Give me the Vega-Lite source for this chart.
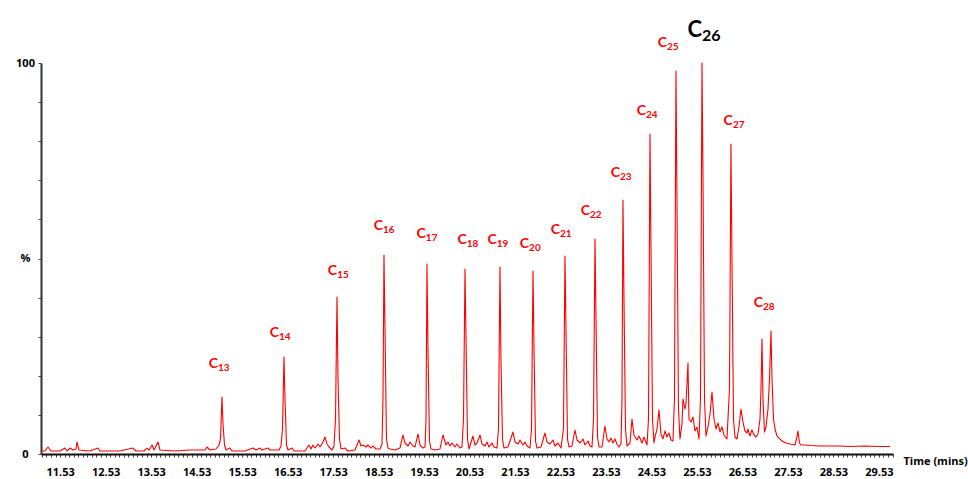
{
  "$schema": "https://vega.github.io/schema/vega-lite/v6.json",
  "autosize": {"type": "none"},
  "width": 852,
  "height": 391,
  "padding": {"left": 41, "top": 63, "right": 75, "bottom": 25},
  "background": "white",
  "config": {"view": {"stroke": null}},
  "datasets": {
    "chrom": [
{"t":11.110,"i":0.77},{"t":11.198,"i":0.77},{"t":11.264,"i":1.79},{"t":11.330,"i":0.77},{"t":11.528,"i":0.77},{"t":11.638,"i":1.53},{"t":11.682,"i":0.77},{"t":11.748,"i":1.53},{"t":11.813,"i":1.02},{"t":11.879,"i":1.28},{"t":11.901,"i":3.07},{"t":11.945,"i":1.02},{"t":12.187,"i":0.77},{"t":12.363,"i":1.53},{"t":12.407,"i":0.77},{"t":12.847,"i":0.77},{"t":13.132,"i":1.53},{"t":13.198,"i":0.77},{"t":13.374,"i":0.77},{"t":13.440,"i":1.53},{"t":13.484,"i":1.02},{"t":13.550,"i":2.30},{"t":13.594,"i":1.02},{"t":13.682,"i":3.07},{"t":13.726,"i":1.02},{"t":14.056,"i":0.77},{"t":14.385,"i":1.02},{"t":14.715,"i":1.02},{"t":14.759,"i":1.79},{"t":14.825,"i":1.02},{"t":14.957,"i":1.28},{"t":15.023,"i":2.30},{"t":15.056,"i":3.84},{"t":15.089,"i":14.58},{"t":15.111,"i":7.67},{"t":15.144,"i":2.30},{"t":15.177,"i":1.02},{"t":15.265,"i":1.53},{"t":15.309,"i":0.77},{"t":15.595,"i":0.77},{"t":15.770,"i":1.53},{"t":15.836,"i":1.02},{"t":15.924,"i":1.53},{"t":15.968,"i":1.02},{"t":16.100,"i":1.53},{"t":16.144,"i":1.02},{"t":16.342,"i":1.02},{"t":16.386,"i":2.05},{"t":16.419,"i":6.39},{"t":16.452,"i":24.81},{"t":16.474,"i":14.07},{"t":16.507,"i":2.30},{"t":16.540,"i":1.02},{"t":16.628,"i":1.53},{"t":16.672,"i":0.77},{"t":16.914,"i":0.77},{"t":17.001,"i":2.30},{"t":17.045,"i":1.28},{"t":17.089,"i":2.30},{"t":17.133,"i":1.53},{"t":17.199,"i":2.56},{"t":17.243,"i":1.79},{"t":17.309,"i":3.07},{"t":17.353,"i":4.35},{"t":17.397,"i":2.56},{"t":17.441,"i":1.79},{"t":17.507,"i":1.02},{"t":17.551,"i":2.05},{"t":17.584,"i":8.95},{"t":17.617,"i":40.15},{"t":17.639,"i":19.18},{"t":17.672,"i":3.84},{"t":17.705,"i":1.28},{"t":17.793,"i":1.53},{"t":17.859,"i":0.77},{"t":18.013,"i":1.02},{"t":18.101,"i":3.58},{"t":18.145,"i":2.05},{"t":18.189,"i":2.30},{"t":18.255,"i":1.79},{"t":18.298,"i":2.30},{"t":18.364,"i":1.53},{"t":18.408,"i":2.05},{"t":18.474,"i":1.28},{"t":18.562,"i":1.28},{"t":18.606,"i":2.56},{"t":18.628,"i":14.07},{"t":18.650,"i":50.90},{"t":18.672,"i":31.97},{"t":18.705,"i":3.84},{"t":18.738,"i":1.53},{"t":18.782,"i":1.28},{"t":18.892,"i":1.02},{"t":19.002,"i":1.53},{"t":19.068,"i":4.86},{"t":19.112,"i":2.81},{"t":19.178,"i":2.05},{"t":19.222,"i":3.07},{"t":19.288,"i":2.05},{"t":19.332,"i":1.79},{"t":19.398,"i":5.12},{"t":19.442,"i":2.30},{"t":19.508,"i":1.53},{"t":19.552,"i":1.79},{"t":19.574,"i":8.95},{"t":19.595,"i":48.59},{"t":19.617,"i":26.85},{"t":19.650,"i":3.32},{"t":19.683,"i":1.28},{"t":19.771,"i":1.02},{"t":19.881,"i":1.28},{"t":19.947,"i":4.86},{"t":20.013,"i":2.30},{"t":20.057,"i":3.07},{"t":20.101,"i":2.05},{"t":20.145,"i":2.81},{"t":20.211,"i":1.79},{"t":20.255,"i":2.56},{"t":20.321,"i":1.53},{"t":20.365,"i":1.79},{"t":20.398,"i":8.95},{"t":20.431,"i":47.31},{"t":20.453,"i":29.41},{"t":20.486,"i":3.84},{"t":20.519,"i":1.28},{"t":20.607,"i":4.60},{"t":20.651,"i":2.30},{"t":20.695,"i":2.81},{"t":20.761,"i":4.86},{"t":20.805,"i":2.56},{"t":20.871,"i":2.05},{"t":20.914,"i":3.07},{"t":20.958,"i":1.79},{"t":21.024,"i":2.81},{"t":21.068,"i":1.79},{"t":21.134,"i":1.53},{"t":21.167,"i":6.39},{"t":21.200,"i":47.83},{"t":21.222,"i":24.30},{"t":21.255,"i":3.84},{"t":21.288,"i":1.53},{"t":21.376,"i":1.79},{"t":21.486,"i":5.63},{"t":21.530,"i":3.07},{"t":21.596,"i":2.56},{"t":21.640,"i":3.58},{"t":21.706,"i":2.30},{"t":21.750,"i":3.07},{"t":21.794,"i":2.05},{"t":21.860,"i":1.53},{"t":21.893,"i":6.39},{"t":21.926,"i":46.80},{"t":21.948,"i":26.85},{"t":21.981,"i":3.32},{"t":22.014,"i":1.53},{"t":22.102,"i":1.79},{"t":22.189,"i":5.37},{"t":22.233,"i":3.07},{"t":22.299,"i":2.56},{"t":22.365,"i":3.58},{"t":22.409,"i":2.05},{"t":22.475,"i":2.81},{"t":22.541,"i":1.53},{"t":22.596,"i":6.39},{"t":22.629,"i":50.64},{"t":22.651,"i":31.97},{"t":22.684,"i":3.84},{"t":22.717,"i":1.79},{"t":22.783,"i":2.05},{"t":22.849,"i":6.14},{"t":22.893,"i":3.58},{"t":22.959,"i":2.81},{"t":23.025,"i":3.84},{"t":23.069,"i":2.30},{"t":23.135,"i":3.32},{"t":23.179,"i":2.05},{"t":23.223,"i":1.79},{"t":23.256,"i":8.95},{"t":23.289,"i":54.99},{"t":23.311,"i":34.53},{"t":23.344,"i":4.35},{"t":23.377,"i":1.79},{"t":23.443,"i":1.79},{"t":23.508,"i":7.16},{"t":23.552,"i":3.84},{"t":23.596,"i":3.07},{"t":23.640,"i":4.09},{"t":23.684,"i":2.81},{"t":23.728,"i":3.84},{"t":23.772,"i":2.56},{"t":23.816,"i":1.79},{"t":23.860,"i":2.56},{"t":23.882,"i":14.07},{"t":23.904,"i":64.96},{"t":23.926,"i":39.64},{"t":23.959,"i":6.39},{"t":23.992,"i":2.05},{"t":24.058,"i":2.81},{"t":24.102,"i":8.95},{"t":24.146,"i":4.86},{"t":24.212,"i":3.58},{"t":24.256,"i":4.60},{"t":24.322,"i":2.81},{"t":24.366,"i":4.35},{"t":24.432,"i":2.30},{"t":24.465,"i":8.95},{"t":24.498,"i":81.84},{"t":24.520,"i":52.43},{"t":24.553,"i":8.95},{"t":24.586,"i":2.81},{"t":24.608,"i":4.35},{"t":24.652,"i":6.39},{"t":24.696,"i":11.25},{"t":24.740,"i":5.12},{"t":24.783,"i":3.84},{"t":24.827,"i":5.88},{"t":24.871,"i":4.35},{"t":24.915,"i":5.37},{"t":24.959,"i":3.58},{"t":25.003,"i":3.32},{"t":25.036,"i":14.07},{"t":25.069,"i":97.95},{"t":25.091,"i":65.22},{"t":25.124,"i":11.51},{"t":25.157,"i":3.84},{"t":25.201,"i":7.67},{"t":25.223,"i":14.07},{"t":25.267,"i":11.51},{"t":25.289,"i":12.79},{"t":25.333,"i":23.27},{"t":25.355,"i":8.95},{"t":25.399,"i":8.18},{"t":25.443,"i":9.46},{"t":25.487,"i":5.88},{"t":25.531,"i":6.91},{"t":25.575,"i":3.84},{"t":25.608,"i":14.07},{"t":25.641,"i":100},{"t":25.663,"i":70.33},{"t":25.696,"i":14.07},{"t":25.729,"i":4.60},{"t":25.773,"i":6.91},{"t":25.817,"i":10.23},{"t":25.861,"i":15.86},{"t":25.905,"i":8.95},{"t":25.949,"i":6.39},{"t":25.993,"i":7.93},{"t":26.037,"i":5.63},{"t":26.080,"i":6.91},{"t":26.124,"i":4.86},{"t":26.190,"i":3.84},{"t":26.245,"i":16.62},{"t":26.278,"i":79.28},{"t":26.300,"i":49.87},{"t":26.333,"i":8.95},{"t":26.366,"i":4.35},{"t":26.410,"i":3.84},{"t":26.454,"i":6.91},{"t":26.498,"i":11.51},{"t":26.542,"i":8.18},{"t":26.586,"i":5.88},{"t":26.630,"i":5.37},{"t":26.652,"i":6.39},{"t":26.696,"i":4.60},{"t":26.740,"i":6.14},{"t":26.784,"i":4.86},{"t":26.828,"i":4.35},{"t":26.872,"i":5.12},{"t":26.916,"i":8.95},{"t":26.938,"i":16.62},{"t":26.960,"i":29.41},{"t":26.982,"i":14.07},{"t":27.015,"i":5.63},{"t":27.048,"i":6.91},{"t":27.092,"i":11.51},{"t":27.125,"i":19.18},{"t":27.158,"i":31.46},{"t":27.180,"i":19.18},{"t":27.213,"i":8.95},{"t":27.246,"i":6.39},{"t":27.290,"i":4.60},{"t":27.355,"i":3.84},{"t":27.399,"i":3.32},{"t":27.487,"i":2.81},{"t":27.575,"i":2.56},{"t":27.685,"i":2.30},{"t":27.718,"i":3.84},{"t":27.751,"i":5.88},{"t":27.784,"i":2.81},{"t":27.817,"i":2.30},{"t":27.927,"i":2.30},{"t":28.015,"i":2.17},{"t":28.235,"i":2.05},{"t":28.455,"i":2.05},{"t":28.674,"i":2.05},{"t":28.894,"i":1.92},{"t":29.224,"i":2.05},{"t":29.554,"i":1.92},{"t":29.774,"i":1.92}
    ],
    "labels": [
      {"t":15.00,"p":22.0,"n":"13"},
      {"t":16.34,"p":30.0,"n":"14"},
      {"t":17.62,"p":45.8,"n":"15"},
      {"t":18.63,"p":57.3,"n":"16"},
      {"t":19.57,"p":55.2,"n":"17"},
      {"t":20.47,"p":53.7,"n":"18"},
      {"t":21.13,"p":53.7,"n":"19"},
      {"t":21.84,"p":52.7,"n":"20"},
      {"t":22.52,"p":56.3,"n":"21"},
      {"t":23.18,"p":61.1,"n":"22"},
      {"t":23.84,"p":70.8,"n":"23"},
      {"t":24.41,"p":86.7,"n":"24"},
      {"t":24.87,"p":104.1,"n":"25"},
      {"t":25.64,"p":106.6,"n":"26"},
      {"t":26.32,"p":84.1,"n":"27"},
      {"t":26.98,"p":37.6,"n":"28"}
    ]
  },
  "encoding": {
    "x": {
      "field": "t", "type": "quantitative",
      "scale": {"domain": [11.11, 29.84], "nice": false, "zero": false},
      "axis": {
        "title": "Time (mins)",
        "titleX": 862, "titleY": 7, "titleAlign": "left", "titleBaseline": "middle", "titleAnchor": null,
        "titleFont": "Open Sans", "titleFontSize": 11, "titleFontWeight": "bold", "titleColor": "#000",
        "values": [11.13,11.23,11.33,11.43,11.53,11.63,11.73,11.83,11.93,
          12.03,12.13,12.23,12.33,12.43,12.53,12.63,12.73,12.83,12.93,
          13.03,13.13,13.23,13.33,13.43,13.53,13.63,13.73,13.83,13.93,
          14.03,14.13,14.23,14.33,14.43,14.53,14.63,14.73,14.83,14.93,
          15.03,15.13,15.23,15.33,15.43,15.53,15.63,15.73,15.83,15.93,
          16.03,16.13,16.23,16.33,16.43,16.53,16.63,16.73,16.83,16.93,
          17.03,17.13,17.23,17.33,17.43,17.53,17.63,17.73,17.83,17.93,
          18.03,18.13,18.23,18.33,18.43,18.53,18.63,18.73,18.83,18.93,
          19.03,19.13,19.23,19.33,19.43,19.53,19.63,19.73,19.83,19.93,
          20.03,20.13,20.23,20.33,20.43,20.53,20.63,20.73,20.83,20.93,
          21.03,21.13,21.23,21.33,21.43,21.53,21.63,21.73,21.83,21.93,
          22.03,22.13,22.23,22.33,22.43,22.53,22.63,22.73,22.83,22.93,
          23.03,23.13,23.23,23.33,23.43,23.53,23.63,23.73,23.83,23.93,
          24.03,24.13,24.23,24.33,24.43,24.53,24.63,24.73,24.83,24.93,
          25.03,25.13,25.23,25.33,25.43,25.53,25.63,25.73,25.83,25.93,
          26.03,26.13,26.23,26.33,26.43,26.53,26.63,26.73,26.83,26.93,
          27.03,27.13,27.23,27.33,27.43,27.53,27.63,27.73,27.83,27.93,
          28.03,28.13,28.23,28.33,28.43,28.53,28.63,28.73,28.83,28.93,
          29.03,29.13,29.23,29.33,29.43,29.53,29.63,29.73,29.83],
        "format": ".2f",
        "labelExpr": "indexof(datum.label, '.53') > 0 ? datum.label : ''",
        "labelOverlap": false, "labelFlush": false,
        "labelFont": "Open Sans", "labelFontSize": 11, "labelFontWeight": "bold", "labelColor": "#000",
        "labelPadding": 9,
        "tickSize": 3, "tickColor": "#444", "tickWidth": 1,
        "domainColor": "#111", "domainWidth": 2,
        "grid": false
      }
    },
    "y": {
      "field": "i", "type": "quantitative",
      "scale": {"domain": [0, 100], "nice": false},
      "axis": {
        "title": null,
        "values": [0,10,20,30,40,50,60,70,80,90,100],
        "labelExpr": "datum.value == 50 ? '%' : ((datum.value == 0 || datum.value == 100) ? datum.label : '')",
        "labelAlign": "center", "labelBaseline": "middle", "labelPadding": 13,
        "labelFont": "Open Sans", "labelFontSize": 11, "labelFontWeight": "bold", "labelColor": "#000",
        "labelOverlap": false, "labelFlush": false,
        "tickSize": 3, "tickColor": "#444", "tickWidth": 1,
        "domainColor": "#333", "domainWidth": 2,
        "grid": false
      }
    }
  },
  "layer": [
    {
      "data": {"name": "chrom"},
      "mark": {"type": "line", "color": "#ff0000", "strokeWidth": 1.1, "strokeJoin": "round"}
    },
    {
      "data": {"name": "labels"},
      "transform": [{"filter": "datum.n != '26'"}],
      "mark": {"type": "text", "text": "C", "align": "right", "baseline": "alphabetic", "font": "Lato", "fontWeight": "bold", "fontSize": 14, "color": "#ff0000"},
      "encoding": {"x": {"field": "t", "type": "quantitative"}, "y": {"field": "p", "type": "quantitative"}}
    },
    {
      "data": {"name": "labels"},
      "transform": [{"filter": "datum.n != '26'"}],
      "mark": {"type": "text", "align": "left", "baseline": "alphabetic", "dy": 3, "font": "Lato", "fontWeight": "bold", "fontSize": 10, "color": "#ff0000"},
      "encoding": {"x": {"field": "t", "type": "quantitative"}, "y": {"field": "p", "type": "quantitative"}, "text": {"field": "n"}}
    },
    {
      "data": {"name": "labels"},
      "transform": [{"filter": "datum.n == '26'"}],
      "mark": {"type": "text", "text": "C", "align": "right", "baseline": "alphabetic", "font": "Lato", "fontWeight": "bold", "fontSize": 22, "color": "#000"},
      "encoding": {"x": {"field": "t", "type": "quantitative"}, "y": {"field": "p", "type": "quantitative"}}
    },
    {
      "data": {"name": "labels"},
      "transform": [{"filter": "datum.n == '26'"}],
      "mark": {"type": "text", "align": "left", "baseline": "alphabetic", "dy": 4, "font": "Lato", "fontWeight": "bold", "fontSize": 16, "color": "#000"},
      "encoding": {"x": {"field": "t", "type": "quantitative"}, "y": {"field": "p", "type": "quantitative"}, "text": {"field": "n"}}
    }
  ]
}
